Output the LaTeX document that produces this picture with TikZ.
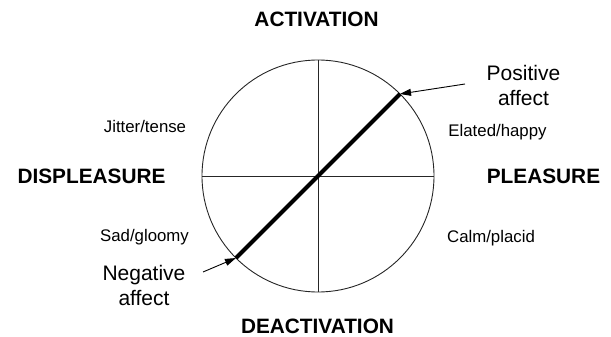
\documentclass[tikz,border=0pt]{standalone}
\usepackage{fontspec}
\setmainfont{Liberation Sans}
\usetikzlibrary{arrows.meta, calc}
\tikzset{
  axis/.style={inner sep=0pt, font=\fontsize{20.8}{24}\selectfont\bfseries},
  mood/.style={inner sep=0pt, font=\fontsize{16.8}{20}\selectfont},
  affect/.style={inner sep=0pt, align=center, font=\fontsize{21}{25}\selectfont},
  ring/.style={draw=black!85, line width=0.9pt},
  pointer/.style={-{Triangle[length=11pt,width=7pt]}, line width=0.9pt},
  diag/.style={line width=4pt}
}
\begin{document}
\begin{tikzpicture}[x=1pt, y=-1pt]
  \useasboundingbox (0,0) rectangle (611,337);
  % circle with the two axes
  \coordinate (o) at (318,176);
  \draw[ring] (o) circle[radius=116];
  \draw[ring] ($(o)+(0,-116)$) -- ($(o)+(0,116)$);
  \draw[ring] ($(o)+(-116,0)$) -- ($(o)+(116,0)$);
  % axis labels
  \node[axis, anchor=base] (act) at (316.5,26.5) {ACTIVATION};
  \node[axis, anchor=base] (deact) at (317.5,333) {DEACTIVATION};
  \node[axis, anchor=base] (displ) at (91.5,183) {DISPLEASURE};
  \node[axis, anchor=base] (pleas) at (543.5,183) {PLEASURE};
  % quadrant labels
  \node[mood, anchor=base] (jitter) at (145,132) {Jitter/tense};
  \node[mood, anchor=base] (elated) at (497.5,136) {Elated/happy};
  \node[mood, anchor=base] (sad) at (144.5,241) {Sad/gloomy};
  \node[mood, anchor=base] (calm) at (491,242.5) {Calm/placid};
  % affect axis
  \coordinate (ptip) at ($(o)+(-45:116)$);
  \coordinate (ntip) at ($(o)+(135:116)$);
  \draw[diag] (ntip) -- (ptip);
  \node[affect] (pos) at (523.5,85) {Positive\\affect};
  \node[affect] (neg) at (144,285) {Negative\\affect};
  \coordinate (ptail) at (465,84);
  \coordinate (ntail) at (203,272);
  \draw[pointer] (ptail) -- (ptip);
  \draw[pointer] (ntail) -- (ntip);
\end{tikzpicture}
\end{document}
